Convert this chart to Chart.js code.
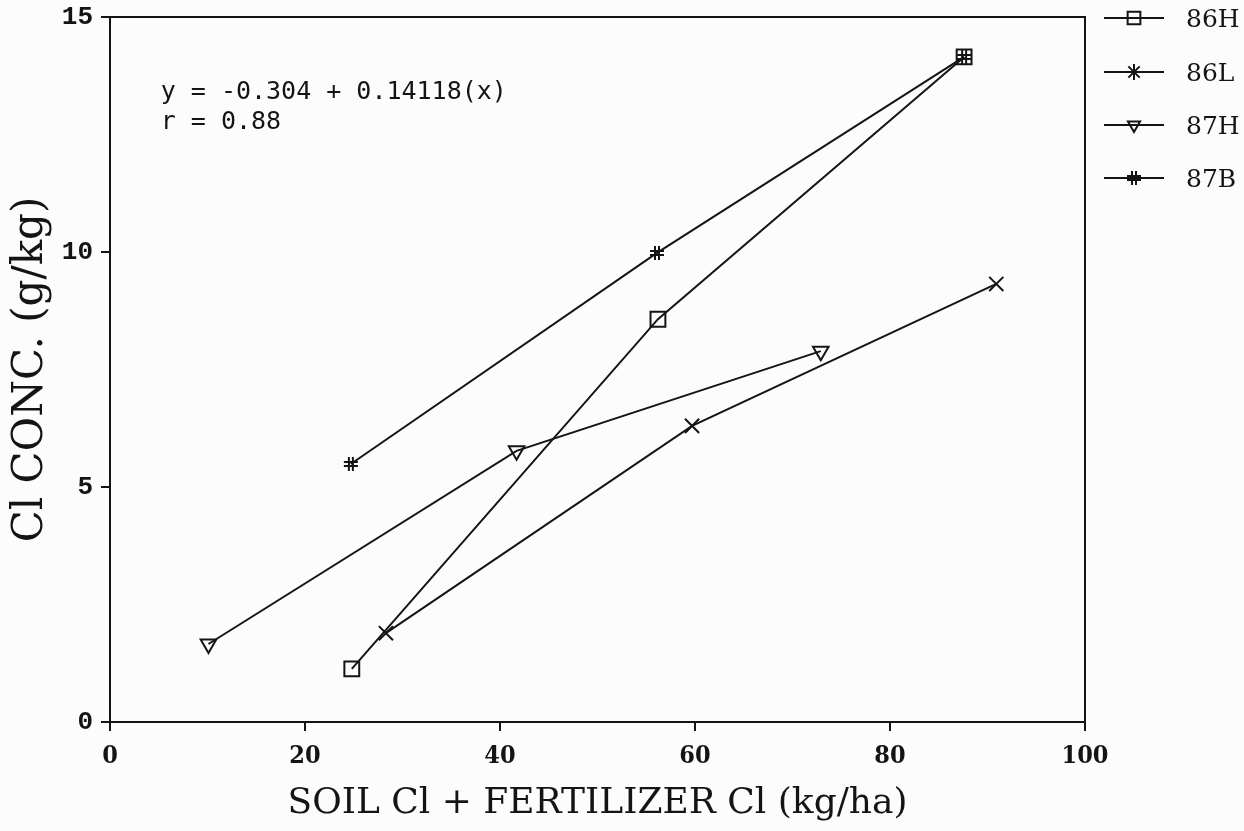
<!DOCTYPE html>
<html>
<head>
<meta charset="utf-8">
<script src="https://cdn.jsdelivr.net/npm/chart.js@4/dist/chart.umd.min.js"></script>
<style>
  html, body { margin: 0; padding: 0; background: #fcfcfc; }
  #wrap { width: 1244px; height: 831px; position: relative; }
</style>
</head>
<body>
<div id="wrap"><canvas id="chart"></canvas></div>
<script>
// values
const seriesNames = ['86H', '86L', '87H', '87B'];
const x86H = [24.8, 56.2, 87.6];
const y86H = [1.13, 8.57, 14.15];
const x86L = [28.3, 59.7, 90.9];
const y86L = [1.89, 6.3, 9.32];
const x87H = [10.1, 41.7, 72.9];
const y87H = [1.66, 5.77, 7.89];
const x87B = [24.7, 56.1, 87.6];
const y87B = [5.49, 9.98, 14.15];

const xTicks = [0, 20, 40, 60, 80, 100];
const yTicks = [0, 5, 10, 15];
const equationLines = ['y = -0.304 + 0.14118(x)', 'r = 0.88'];

const ink = '#141414';

const toPoints = (xs, ys) => xs.map((x, i) => ({ x, y: ys[i] }));

// '#' marker, no built-in style for it
const hashMark = (() => {
  const c = document.createElement('canvas');
  c.width = 16; c.height = 16;
  const g = c.getContext('2d');
  g.strokeStyle = ink;
  g.lineWidth = 2;
  g.beginPath();
  [6, 10].forEach(p => {
    g.moveTo(p, 1); g.lineTo(p, 15);
    g.moveTo(1, p); g.lineTo(15, p);
  });
  g.stroke();
  return c;
})();

const baseSet = {
  showLine: true,
  borderColor: ink,
  borderWidth: 2,
  backgroundColor: 'rgba(0,0,0,0)',
  pointBorderColor: ink,
  pointBorderWidth: 2,
  tension: 0
};

const datasets = [
  { ...baseSet, label: seriesNames[0], data: toPoints(x86H, y86H), pointStyle: 'rect', pointRadius: 10.5 },
  { ...baseSet, label: seriesNames[1], data: toPoints(x86L, y86L), pointStyle: 'crossRot', pointRadius: 10 },
  { ...baseSet, label: seriesNames[2], data: toPoints(x87H, y87H), pointStyle: 'triangle', pointRotation: 180, pointRadius: 9 },
  { ...baseSet, label: seriesNames[3], data: toPoints(x87B, y87B), pointStyle: hashMark, pointRadius: 8 }
];

// legend drawn to the right of the frame, line + marker + label
const legendMarks = [
  { style: 'rect', rotation: 0, radius: 9 },
  { style: 'star', rotation: 0, radius: 8 },
  { style: 'triangle', rotation: 180, radius: 7 },
  { style: hashMark, rotation: 0, radius: 8 }
];
const legendRows = [18, 72, 125, 178];

const sidePlugin = {
  id: 'side',
  afterDraw(chart) {
    const ctx = chart.ctx;
    const area = chart.chartArea;
    ctx.save();
    // box frame
    ctx.strokeStyle = ink;
    ctx.lineWidth = 2;
    ctx.strokeRect(area.left, area.top, area.right - area.left, area.bottom - area.top);

    // legend
    seriesNames.forEach((name, i) => {
      const y = legendRows[i];
      ctx.strokeStyle = ink;
      ctx.lineWidth = 2;
      ctx.beginPath();
      ctx.moveTo(1104, y);
      ctx.lineTo(1164, y);
      ctx.stroke();
      const m = legendMarks[i];
      ctx.fillStyle = 'rgba(0,0,0,0)';
      Chart.helpers.drawPoint(ctx, {
        pointStyle: m.style, rotation: m.rotation, radius: m.radius, borderWidth: 2
      }, 1134, y);
      ctx.fillStyle = ink;
      ctx.font = '25px "DejaVu Serif"';
      ctx.textBaseline = 'middle';
      ctx.textAlign = 'left';
      ctx.fillText(name, 1186, y + 2);
    });

    // regression note
    const xs = chart.scales.x, ys = chart.scales.y;
    ctx.font = '25px "DejaVu Sans Mono"';
    ctx.textBaseline = 'middle';
    ctx.fillStyle = ink;
    equationLines.forEach((line, i) => {
      ctx.fillText(line, xs.getPixelForValue(5.2), ys.getPixelForValue(13.4) + i * 30);
    });
    ctx.restore();
  }
};

new Chart(document.getElementById('chart'), {
  type: 'scatter',
  data: { datasets },
  plugins: [sidePlugin],
  options: {
    responsive: true,
    maintainAspectRatio: false,
    animation: false,
    layout: { padding: { top: 17, right: 159, left: 0, bottom: 0 } },
    plugins: { legend: { display: false }, tooltip: { enabled: false } },
    scales: {
      x: {
        type: 'linear',
        min: 0,
        max: 100,
        afterBuildTicks: (scale) => { scale.ticks = xTicks.map(v => ({ value: v })); },
        afterFit: (scale) => {
          scale.height = 109;
          scale.paddingLeft = 0;
          scale.paddingRight = 0;
        },
        grid: { drawOnChartArea: false, drawTicks: true, tickLength: 9, color: ink, lineWidth: 2 },
        border: { display: true, color: ink, width: 2 },
        ticks: { color: ink, padding: 10, font: { family: 'DejaVu Serif Condensed', size: 25, weight: 'bold' } },
        title: {
          display: true,
          text: 'SOIL Cl + FERTILIZER Cl (kg/ha)',
          color: ink,
          font: { family: 'DejaVu Serif', size: 36 },
          padding: { top: 4, bottom: 6 }
        }
      },
      y: {
        type: 'linear',
        min: 0,
        max: 15,
        afterBuildTicks: (scale) => { scale.ticks = yTicks.map(v => ({ value: v })); },
        afterFit: (scale) => {
          scale.width = 110;
          scale.paddingTop = 0;
          scale.paddingBottom = 0;
        },
        grid: { drawOnChartArea: false, drawTicks: true, tickLength: 9, color: ink, lineWidth: 2 },
        border: { display: true, color: ink, width: 2 },
        ticks: { color: ink, padding: 8, font: { family: 'Liberation Mono', size: 26, weight: 'bold' } },
        title: {
          display: true,
          text: 'Cl CONC. (g/kg)',
          color: ink,
          font: { family: 'DejaVu Serif', size: 42 },
          padding: { top: 6, bottom: 4 }
        }
      }
    }
  }
});
</script>
</body>
</html>
